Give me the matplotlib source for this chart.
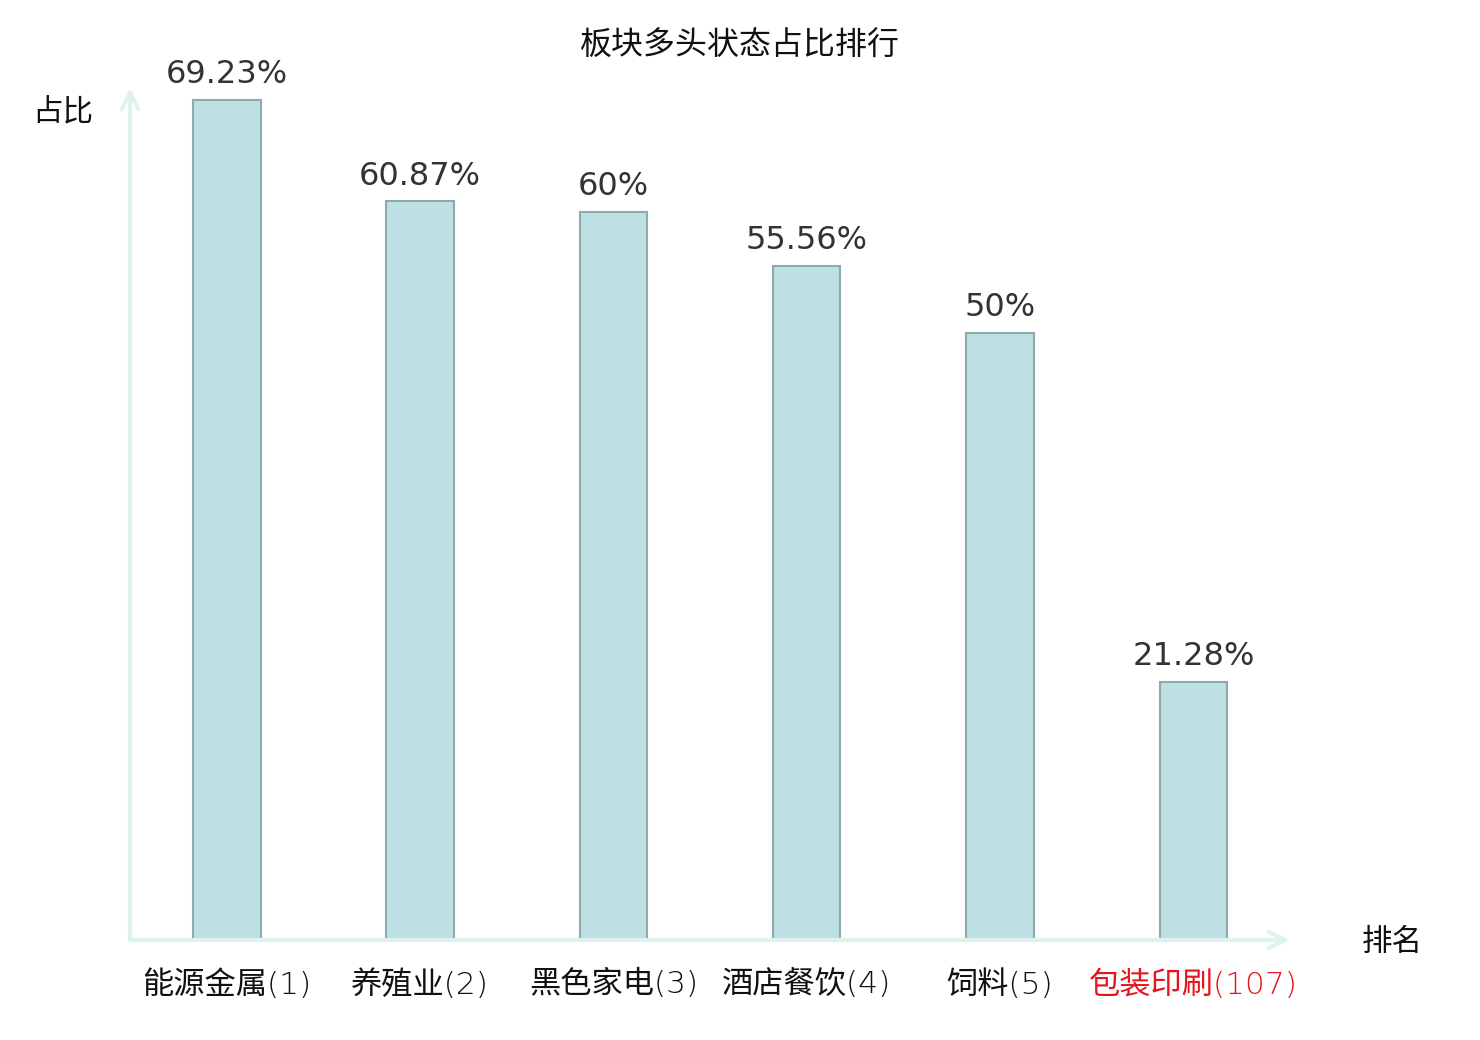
import matplotlib
matplotlib.use('Agg')
import matplotlib.pyplot as plt

plt.rcParams['font.family'] = ['Noto Sans CJK SC', 'DejaVu Sans']

# 数据
sectors = ['能源金属', '养殖业', '黑色家电', '酒店餐饮', '饲料', '包装印刷']
ranks = [1, 2, 3, 4, 5, 107]
ratios = [69.23, 60.87, 60, 55.56, 50, 21.28]

tick_labels = [f'{s}({r})' for s, r in zip(sectors, ranks)]
tick_colors = ['#111111'] * 5 + ['#e8141b']
axis_col = '#dff2f0'

fig = plt.figure(figsize=(14.8, 10.4), dpi=100)
ax = fig.add_axes([130/1480, 100/1040, 1160/1480, 852/1040])

x = list(range(len(sectors)))
ax.bar(x, ratios, width=0.35, color='#bce0e3', edgecolor='#8eaaab', linewidth=1.5, zorder=3)

for xi, v in zip(x, ratios):
    ax.annotate(f'{v:g}%', (xi, v), xytext=(0, 7), textcoords='offset points',
                ha='center', va='bottom', fontsize=23, color='#333333',
                family='DejaVu Sans')

ax.set_xlim(-0.5, 5.5)
ax.set_ylim(0, 70.2)
for s in ax.spines.values():
    s.set_visible(False)
ax.set_yticks([])
ax.set_xticks(x)
ax.set_xticklabels(tick_labels, fontsize=22.5, family=['DejaVu Sans', 'Noto Sans CJK SC'],
                   fontweight='light')
for lab, c in zip(ax.get_xticklabels(), tick_colors):
    lab.set_color(c)
ax.tick_params(axis='x', length=0, pad=21)

# 坐标轴箭头
ax.annotate('', xy=(1.0, 0), xytext=(0, 0), xycoords='axes fraction',
            arrowprops=dict(arrowstyle='->', color=axis_col, lw=3, mutation_scale=30,
                            shrinkA=0, shrinkB=0))
ax.annotate('', xy=(0, 1.0), xytext=(0, 0), xycoords='axes fraction',
            arrowprops=dict(arrowstyle='->', color=axis_col, lw=3, mutation_scale=30,
                            shrinkA=0, shrinkB=0))

fig.text(63/1480, 1 - 112/1040, '占比', ha='center', va='center', fontsize=22, color='#111111')
fig.text(1392/1480, 1 - 942/1040, '排名', ha='center', va='center', fontsize=22, color='#111111')
fig.text(740/1480, 1 - 46/1040, '板块多头状态占比排行', ha='center', va='center', fontsize=23, color='#111111')

fig.savefig('out.png', dpi=100)
